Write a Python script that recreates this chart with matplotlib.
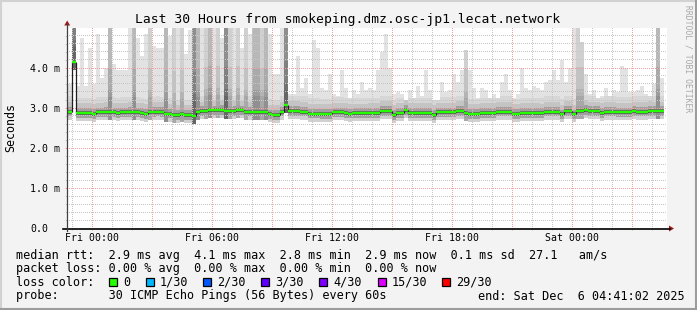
import numpy as np
import matplotlib
matplotlib.use("Agg")
import matplotlib.pyplot as plt
from matplotlib.patches import Polygon, Rectangle
from matplotlib.lines import Line2D
from matplotlib.colors import to_rgba

# ---------------- data ----------------
STEP_H = 0.2        # 12-minute consolidated RRD step, in hours
FIRST_STEP = -7     # first step index relative to Fri 00:00

median_ms = [
    2.91, 2.91, 4.15, 2.88, 2.88, 2.88, 2.88,
    2.85, 2.89, 2.89, 2.90, 2.89, 2.89, 2.88, 2.89, 2.89, 2.90,
    2.89, 2.89, 2.88, 2.85, 2.90, 2.90, 2.91, 2.90, 2.85, 2.86,
    2.83, 2.83, 2.84, 2.83, 2.83, 2.80, 2.90, 2.92, 2.92, 2.94,
    2.94, 2.94, 2.95, 2.93, 2.93, 2.93, 2.95, 2.94, 2.91, 2.91,
    2.91, 2.91, 2.91, 2.90, 2.84, 2.83, 2.83, 2.91, 3.08, 2.93,
    2.93, 2.93, 2.91, 2.91, 2.86, 2.86, 2.86, 2.85, 2.85, 2.85,
    2.89, 2.89, 2.89, 2.88, 2.86, 2.87, 2.87, 2.87, 2.87, 2.88,
    2.88, 2.88, 2.93, 2.93, 2.93, 2.83, 2.88, 2.88, 2.95, 2.88,
    2.88, 2.88, 2.88, 2.88, 2.88, 2.83, 2.89, 2.89, 2.89, 2.89,
    2.89, 2.93, 2.93, 2.88, 2.85, 2.85, 2.85, 2.88, 2.88, 2.88,
    2.88, 2.91, 2.91, 2.91, 2.91, 2.85, 2.85, 2.88, 2.88, 2.88,
    2.88, 2.88, 2.87, 2.91, 2.91, 2.91, 2.91, 2.84, 2.93, 2.93,
    2.84, 2.93, 2.93, 2.95, 2.92, 2.92, 2.92, 2.88, 2.91, 2.91,
    2.91, 2.89, 2.89, 2.89, 2.89, 2.92, 2.91, 2.91, 2.91, 2.93,
    2.92, 2.92, 2.92,
]

smoke_top_ms = [
    3.60, 3.60, 5.00, 3.55, 4.75, 3.55, 4.50,
    3.60, 4.85, 3.75, 4.00, 5.00, 4.10, 3.95, 3.95, 3.95, 5.00,
    5.00, 4.75, 4.30, 4.85, 5.00, 4.55, 4.50, 4.50, 5.00, 4.80,
    5.00, 5.00, 5.00, 4.35, 4.95, 5.00, 5.00, 5.00, 5.00, 5.00,
    5.00, 5.00, 4.75, 5.00, 5.00, 5.00, 5.00, 4.50, 5.00, 4.85,
    5.00, 5.00, 5.00, 5.00, 4.85, 3.85, 3.85, 5.00, 5.00, 3.35,
    3.35, 4.30, 3.50, 3.75, 3.35, 4.70, 4.50, 3.50, 3.45, 3.85,
    3.35, 3.30, 3.95, 3.50, 3.25, 3.45, 3.35, 3.65, 3.45, 3.50,
    3.45, 3.95, 4.40, 4.85, 4.00, 3.35, 3.40, 3.35, 3.20, 3.45,
    3.25, 3.55, 3.30, 3.95, 3.45, 3.20, 3.20, 3.65, 3.40, 3.45,
    3.85, 3.65, 3.95, 4.45, 3.95, 3.50, 3.25, 3.50, 3.45, 3.25,
    3.35, 3.25, 3.65, 3.85, 3.45, 3.25, 3.35, 4.00, 3.50, 3.45,
    3.55, 3.50, 3.45, 3.65, 3.70, 3.95, 3.70, 4.20, 3.65, 4.00,
    5.00, 5.00, 4.65, 3.85, 3.35, 3.45, 3.25, 3.30, 3.50, 3.30,
    3.45, 3.40, 4.05, 4.00, 3.40, 3.40, 3.45, 3.55, 3.35, 3.30,
    3.60, 5.00, 3.75,
]

# 0 = light smoke, 1 = medium-light, 2 = medium, 3 = dark (many slow pings)
smoke_tone = [
    0, 0, 3, 0, 0, 0, 0,
    0, 0, 0, 0, 2, 0, 0, 0, 0, 0,
    2, 0, 0, 0, 1, 0, 0, 0, 2, 0,
    1, 0, 1, 0, 0, 3, 2, 0, 1, 2,
    0, 1, 0, 3, 1, 0, 1, 0, 1, 0,
    2, 2, 1, 2, 0, 0, 0, 0, 3, 0,
    0, 0, 0, 0, 0, 0, 0, 0, 0, 0,
    0, 0, 0, 0, 0, 0, 0, 0, 0, 0,
    0, 0, 0, 0, 0, 0, 0, 0, 0, 0,
    0, 0, 0, 0, 0, 0, 0, 0, 0, 0,
    0, 0, 0, 1, 0, 0, 0, 0, 0, 0,
    0, 0, 0, 0, 0, 0, 0, 0, 0, 0,
    0, 0, 0, 0, 0, 0, 0, 0, 0, 0,
    0, 1, 1, 0, 0, 0, 0, 0, 0, 0,
    0, 0, 0, 0, 0, 0, 0, 0, 0, 0,
    0, 2, 0,
]

x_tick_hours = [0, 6, 12, 18, 24]
x_tick_labels = ["Fri 00:00", "Fri 06:00", "Fri 12:00", "Fri 18:00", "Sat 00:00"]
y_tick_values = [0, 1, 2, 3, 4]
y_tick_labels = ["0.0", "1.0 m", "2.0 m", "3.0 m", "4.0 m"]

loss_labels = ["0", "1/30", "2/30", "3/30", "4/30", "15/30", "29/30"]
loss_colors = ["#26ff00", "#00b8ff", "#0059ff", "#5e00ff", "#7e00ff", "#dd00ff", "#ff0000"]

title = "Last 30 Hours from smokeping.dmz.osc-jp1.lecat.network"
stat_rtt = "median rtt:  2.9 ms avg  4.1 ms max  2.8 ms min  2.9 ms now  0.1 ms sd  27.1   am/s"
stat_loss = "packet loss: 0.00 % avg  0.00 % max  0.00 % min  0.00 % now"
probe_text = "probe:       30 ICMP Echo Pings (56 Bytes) every 60s"
end_text = "end: Sat Dec  6 04:41:02 2025"

# ---------------- layout ----------------
W, H = 697, 310
AX_W, AX_H = 600, 200
MONO = "DejaVu Sans Mono"
BG = "#f3f3f3"
XLIM = (-1.265, 28.735)
YLIM = (0.0, 5.0)


def fx(px):
    return px / W


def fy(py):
    return 1 - py / H


fig = plt.figure(figsize=(W / 100, H / 100), dpi=100, facecolor=BG)
ax = fig.add_axes([fx(67), fy(228), AX_W / W, AX_H / H])
ax.set_facecolor("white")
for s in ax.spines.values():
    s.set_visible(False)

med = np.array(median_ms)
top = np.array(smoke_top_ms)
tone = np.array(smoke_tone)
n = len(med)
x0 = (FIRST_STEP + np.arange(n)) * STEP_H
heavy = tone > 0

tone_gray = np.array([226, 208, 184, 142])


def grays(vals):
    return ["#%02x%02x%02x" % (int(v), int(v), int(v)) for v in np.clip(vals, 0, 255)]


def band(bottom, upper, colors, z):
    hgt = np.maximum(upper - bottom, 0)
    ax.bar(x0, hgt, bottom=bottom, width=STEP_H, align="edge", color=colors,
           linewidth=0, antialiased=False, zorder=z)


# base smoke layer (from the lowest pings up to the slowest ping)
band(med - 0.2, top, grays(tone_gray[tone]), 1.0)
# heavy columns get darker towards the median
band(med, np.minimum(top, med + 1.1), grays(tone_gray[tone] - 14 * heavy), 1.05)
band(med, np.minimum(top, med + 0.55), grays(tone_gray[tone] - 28 * heavy), 1.07)

# layers around the median (offsets in ms, grey level)
layers = [(-0.2, -0.12, 208), (-0.12, -0.05, 160), (-0.05, 0.0, 92),
          (0.0, 0.05, 104), (0.05, 0.12, 160), (0.12, 0.24, 196), (0.24, 0.38, 214)]
for lo, hi_off, gl in layers:
    cg = np.minimum(gl, tone_gray[tone] - 40 * heavy)
    band(med + lo, np.minimum(top, med + hi_off), grays(cg), 1.2)

# median line: dark step connectors + green level segments
ax.vlines(x0[1:], np.minimum(med[:-1], med[1:]), np.maximum(med[:-1], med[1:]),
          colors="#202020", linewidth=0.9, zorder=3)
ax.hlines(med, x0, x0 + STEP_H, colors=loss_colors[0], linewidth=1.7, zorder=3.1)

# ticks
ax.set_xticks(np.arange(0, 29, 3))
ax.set_xticklabels([x_tick_labels[x_tick_hours.index(h)] if h in x_tick_hours else ""
                    for h in range(0, 29, 3)])
ax.set_xticks(np.arange(-1, 29, 1), minor=True)
ax.set_yticks(y_tick_values)
ax.set_yticklabels(y_tick_labels)
ax.set_yticks(np.arange(0, 5.0, 0.2), minor=True)
GRID_MINOR = "#c6c6c6"
GRID_MAJOR = "#f4a0a0"
ax.tick_params(which="both", direction="out", length=1.5, width=0.72)
ax.tick_params(which="minor", color=GRID_MINOR)
ax.tick_params(which="major", color=GRID_MAJOR)
ax.tick_params(axis="x", which="major", pad=2.0, labelsize=7.1)
ax.tick_params(axis="y", which="major", pad=25.0, labelsize=7.1)
for lab in ax.get_xticklabels() + ax.get_yticklabels():
    lab.set_fontfamily(MONO)
    lab.set_color("#000000")
for lab in ax.get_yticklabels():
    lab.set_horizontalalignment("left")

# dotted (1 px on / 1 px off) grid, rasterised exactly onto the plot pixels
grid_img = np.zeros((AX_H, AX_W, 4))


def col_of(h):
    return int(np.floor((h - XLIM[0]) / (XLIM[1] - XLIM[0]) * AX_W))


def row_of(v):
    return int(np.floor((YLIM[1] - v) / (YLIM[1] - YLIM[0]) * AX_H))


minor_rgba = to_rgba(GRID_MINOR)
major_rgba = to_rgba(GRID_MAJOR)
rows = np.arange(AX_H)
cols = np.arange(AX_W)
for h in ax.get_xticks(minor=True):
    c = col_of(h)
    if 0 <= c < AX_W:
        grid_img[rows[rows % 2 == 0], c] = minor_rgba
for v in ax.get_yticks(minor=True):
    r = row_of(v)
    if 0 <= r < AX_H:
        grid_img[r, cols[cols % 2 == 0]] = minor_rgba
for h in ax.get_xticks():
    c = col_of(h)
    if 0 <= c < AX_W:
        grid_img[c * 0 + rows[rows % 2 == 0], c] = major_rgba
for v in ax.get_yticks():
    r = row_of(v)
    if 0 <= r < AX_H:
        grid_img[r, cols[cols % 2 == 0]] = major_rgba
ax.imshow(grid_img, extent=(XLIM[0], XLIM[1], YLIM[0], YLIM[1]), aspect="auto",
          interpolation="nearest", zorder=2.5)
ax.set_xlim(*XLIM)
ax.set_ylim(*YLIM)

# axes lines and arrows
fig.add_artist(Line2D([fx(63), fx(670)], [fy(228.5), fy(228.5)], color="#000000", lw=1.2))
fig.add_artist(Line2D([fx(67.2), fx(67.2)], [fy(231), fy(24)], color="#404040", lw=0.9))
arrow_c = "#9b1c1c"
fig.add_artist(Polygon([(fx(669), fy(225.5)), (fx(669), fy(231.5)), (fx(674), fy(228.5))],
                       closed=True, color=arrow_c, lw=0))
fig.add_artist(Polygon([(fx(64.2), fy(25.5)), (fx(70.2), fy(25.5)), (fx(67.2), fy(20.5))],
                       closed=True, color=arrow_c, lw=0))

# titles and labels
fig.text(fx(348), fy(19), title, family=MONO, fontsize=9.4, ha="center", va="center", color="#000000")
fig.text(fx(11), fy(127), "Seconds", family=MONO, fontsize=8.4, rotation=90,
         ha="center", va="center", color="#000000")
fig.text(fx(688), fy(59), "RRDTOOL / TOBI OETIKER", family=MONO, fontsize=5.8, rotation=-90,
         ha="center", va="center", color="#a8a8a8")

# legend rows
LEG = 8.45
fig.text(fx(16), fy(255), stat_rtt, family=MONO, fontsize=LEG, ha="left", va="center")
fig.text(fx(16), fy(268.5), stat_loss, family=MONO, fontsize=LEG, ha="left", va="center")
fig.text(fx(16), fy(282), "loss color:", family=MONO, fontsize=LEG, ha="left", va="center")
box_x = [108.5, 145.5, 203, 261, 319, 377.5, 441.5]
for bx, lab, col in zip(box_x, loss_labels, loss_colors):
    fig.add_artist(Rectangle((fx(bx), fy(286)), 8 / W, 8 / H, facecolor=col,
                             edgecolor="#000000", linewidth=0.9))
    fig.text(fx(bx + 14.5), fy(282), lab, family=MONO, fontsize=LEG, ha="left", va="center")
fig.text(fx(16), fy(296), probe_text, family=MONO, fontsize=LEG, ha="left", va="center")
fig.text(fx(478), fy(296), end_text, family=MONO, fontsize=LEG, ha="left", va="center")

# 3D frame
fig.add_artist(Line2D([fx(0), fx(697)], [fy(0.8), fy(0.8)], color="#d2d2d2", lw=1.5))
fig.add_artist(Line2D([fx(0.8), fx(0.8)], [fy(0), fy(310)], color="#d2d2d2", lw=1.5))
fig.add_artist(Line2D([fx(0), fx(697)], [fy(309), fy(309)], color="#9c9c9c", lw=1.5))
fig.add_artist(Line2D([fx(696), fx(696)], [fy(0), fy(310)], color="#9c9c9c", lw=1.5))

fig.savefig("out.png", dpi=100, facecolor=BG)
